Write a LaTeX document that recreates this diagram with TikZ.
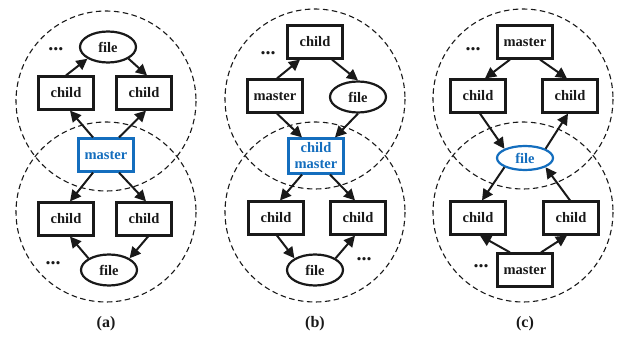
\documentclass[tikz,border=0pt]{standalone}
\usepackage{fontspec}
\setmainfont{Liberation Serif}
\usetikzlibrary{shapes.geometric,arrows.meta}
\definecolor{hlblue}{RGB}{20,110,190}
\definecolor{ink}{RGB}{25,25,25}
\tikzset{
  lbl/.style={font=\bfseries\fontsize{14.5}{16}\selectfont, text=ink},
  box/.style={lbl, draw=ink, fill=white, line width=2.2pt, minimum width=55pt,
              minimum height=33pt, inner sep=0pt, align=center},
  oval/.style={lbl, ellipse, draw=ink, fill=white, line width=2.2pt,
               minimum width=56pt, minimum height=31pt, inner sep=0pt},
  hl/.style={draw=hlblue, text=hlblue},
  arr/.style={draw=ink, line width=2pt, -{Triangle[length=11pt,width=11pt]}},
  ring/.style={draw=ink, line width=1.1pt, dash pattern=on 5.5pt off 3.5pt},
  dots/.style={font=\bfseries\fontsize{20}{20}\selectfont, text=ink, inner sep=0pt},
  captxt/.style={font=\bfseries\fontsize{16}{18}\selectfont, text=ink}
}
\begin{document}
\begin{tikzpicture}[x=1pt,y=-1pt]
\useasboundingbox (0,0) rectangle (622,339);

% ---------- (a): master shared by two neighbourhoods ----------
\draw[ring] (106,101) circle (90);
\draw[ring] (106,212) circle (90);
\node[oval] (af) at (108,47) {file};
\node[dots] (ad1) at (56,49) {...};
\node[box] (ac1) at (66,93) {child};
\node[box] (ac2) at (144,93) {child};
\node[box,hl] (am) at (106,155) {master};
\node[box] (ac3) at (66,219) {child};
\node[box] (ac4) at (144,219) {child};
\node[oval] (afb) at (109,270) {file};
\node[dots] (ad2) at (53,263) {...};
\node[captxt] (acap) at (106,324) {(a)};
\draw[arr] (ac1.north) -- (af.south west);
\draw[arr] (af.south east) -- ([xshift=3pt]ac2.north);
\draw[arr] ([xshift=-13pt]am.north) -- ([xshift=4pt]ac1.south);
\draw[arr] ([xshift=13pt]am.north) -- ([xshift=2pt]ac2.south);
\draw[arr] ([xshift=-13pt]am.south) -- ([xshift=4pt]ac3.north);
\draw[arr] ([xshift=13pt]am.south) -- ([xshift=2pt]ac4.north);
\draw[arr] (afb.north west) -- ([xshift=4pt]ac3.south);
\draw[arr] ([xshift=4pt]ac4.south) -- (afb.north east);

% ---------- (b): child/master shared ----------
\draw[ring] (315,99) circle (90);
\draw[ring] (315,212) circle (90);
\node[box] (bct) at (315,42) {child};
\node[dots] (bd1) at (268,53) {...};
\node[box] (bm) at (275,96) {master};
\node[oval] (bf) at (358,97) {file};
\node[box,hl,minimum height=35pt] (bcm) at (316,156) {child\\master};
\node[box] (bc1) at (276,218) {child};
\node[box] (bc2) at (358,218) {child};
\node[oval] (bfb) at (315,270) {file};
\node[dots] (bd2) at (364,259) {...};
\node[captxt] (bcap) at (315,324) {(b)};
\draw[arr] ([xshift=2pt]bm.north) -- ([xshift=-15pt]bct.south);
\draw[arr] ([xshift=17pt]bct.south) -- (bf.north);
\draw[arr] ([xshift=2pt]bm.south) -- ([xshift=-14pt]bcm.north);
\draw[arr] (bf.south) -- ([xshift=19pt]bcm.north);
\draw[arr] ([xshift=-14pt]bcm.south) -- ([xshift=4pt]bc1.north);
\draw[arr] ([xshift=14pt]bcm.south) -- ([xshift=-3pt]bc2.north);
\draw[arr] ([xshift=1pt]bc1.south) -- (bfb.north west);
\draw[arr] (bfb.north east) -- ([xshift=-3pt]bc2.south);

% ---------- (c): file shared ----------
\draw[ring] (523,99) circle (90);
\draw[ring] (523,212) circle (90);
\node[box] (cm) at (525,42) {master};
\node[dots] (cd1) at (473,49) {...};
\node[box] (cc1) at (478,96) {child};
\node[box] (cc2) at (570,96) {child};
\node[oval,hl,minimum height=24pt] (cf) at (525,158) {file};
\node[box] (cc3) at (478,218) {child};
\node[box] (cc4) at (571,218) {child};
\node[box] (cmb) at (525,270) {master};
\node[dots] (cd2) at (481,266) {...};
\node[captxt] (ccap) at (525,324) {(c)};
\draw[arr] ([xshift=-15pt]cm.south) -- ([xshift=7pt]cc1.north);
\draw[arr] ([xshift=15pt]cm.south) -- ([xshift=-3pt]cc2.north);
\draw[arr] ([xshift=2pt]cc1.south) -- (cf.north west);
\draw[arr] (cf.north east) -- ([xshift=-2pt]cc2.south);
\draw[arr] (cf.south west) -- ([xshift=4pt]cc3.north);
\draw[arr] ([xshift=-1pt]cc4.north) -- (cf.south east);
\draw[arr] ([xshift=-15pt]cmb.north) -- ([xshift=2pt]cc3.south);
\draw[arr] ([xshift=16pt]cmb.north) -- ([xshift=-4pt]cc4.south);
\end{tikzpicture}
\end{document}
